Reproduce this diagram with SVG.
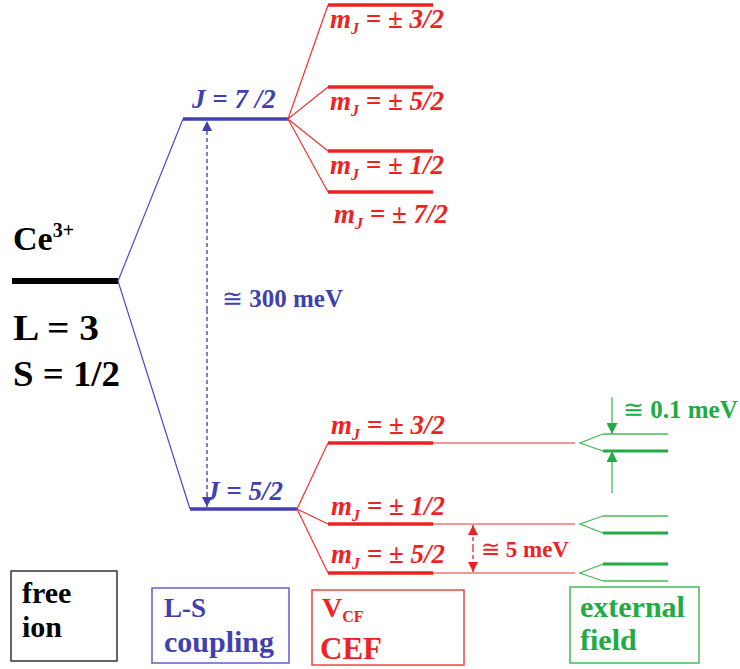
<svg xmlns="http://www.w3.org/2000/svg" width="740" height="669" viewBox="0 0 740 669">
<style>
text{font-family:"Liberation Serif","Times New Roman",serif;font-weight:bold}
.b{fill:#4040b0}.r{fill:#ee2222}.g{fill:#22aa44}.k{fill:#000}
.mj{font-style:italic;font-size:27px;fill:#ee2222}
.sub{font-size:16px}
.thinb{stroke:#4a4ad0;stroke-width:1.2;fill:none}
.thinr{stroke:#ee3333;stroke-width:1.2;fill:none}
.thickr{stroke:#ee2222;stroke-width:3.5}
.thing{stroke:#44bb55;stroke-width:1.3;fill:none}
.thickg{stroke:#22aa44;stroke-width:3}
</style>
<defs>
<marker id="ab" viewBox="0 0 10 10" refX="10" refY="5" markerWidth="10" markerHeight="10" markerUnits="userSpaceOnUse" orient="auto"><path d="M0,0L10,5L0,10z" fill="#4040b0"/></marker>
<marker id="ar" viewBox="0 0 10 10" refX="10" refY="5" markerWidth="10" markerHeight="10" markerUnits="userSpaceOnUse" orient="auto"><path d="M0,0L10,5L0,10z" fill="#ee2222"/></marker>
<marker id="ag" viewBox="0 0 10 10" refX="10" refY="5" markerWidth="11" markerHeight="11" markerUnits="userSpaceOnUse" orient="auto"><path d="M0,0L10,5L0,10z" fill="#22aa44"/></marker>
</defs>

<g id="free-ion">
<line x1="12" y1="281" x2="118" y2="281" stroke="#000" stroke-width="6"/>
<text x="13" y="250" font-size="34" class="k">Ce<tspan font-size="20" dy="-13">3+</tspan></text>
<text x="13" y="340" font-size="36" class="k" textLength="86" lengthAdjust="spacingAndGlyphs">L = 3</text>
<text x="13" y="386" font-size="36" class="k" textLength="107" lengthAdjust="spacingAndGlyphs">S = 1/2</text>
</g>

<g id="J72">
<line x1="183" y1="119" x2="288" y2="119" stroke="#4040b0" stroke-width="3.5"/>
<text x="192" y="108" font-size="27" font-style="italic" class="b">J = 7 /2</text>
</g>
<g id="J52">
<line x1="190" y1="509" x2="297" y2="509" stroke="#4040b0" stroke-width="3.5"/>
<text x="206" y="500" font-size="27" font-style="italic" class="b">J = 5/2</text>
</g>

<g id="cef-upper">
<line x1="328" y1="5" x2="433" y2="5" class="thickr"/>
<line x1="328" y1="87" x2="433" y2="87" class="thickr"/>
<line x1="328" y1="151" x2="433" y2="151" class="thickr"/>
<line x1="328" y1="192" x2="433" y2="192" class="thickr"/>
<text x="330" y="28" class="mj">m<tspan class="sub" dy="6">J</tspan><tspan dy="-6"> = ± 3/2</tspan></text>
<text x="330" y="110" class="mj">m<tspan class="sub" dy="6">J</tspan><tspan dy="-6"> = ± 5/2</tspan></text>
<text x="330" y="174" class="mj">m<tspan class="sub" dy="6">J</tspan><tspan dy="-6"> = ± 1/2</tspan></text>
<text x="334" y="223" class="mj">m<tspan class="sub" dy="6">J</tspan><tspan dy="-6"> = ± 7/2</tspan></text>
</g>

<g id="cef-lower">
<line x1="328" y1="443" x2="433" y2="443" class="thickr"/>
<line x1="328" y1="524" x2="433" y2="524" class="thickr"/>
<line x1="328" y1="573" x2="433" y2="573" class="thickr"/>
<text x="331" y="434" class="mj">m<tspan class="sub" dy="6">J</tspan><tspan dy="-6"> = ± 3/2</tspan></text>
<text x="331" y="515" class="mj">m<tspan class="sub" dy="6">J</tspan><tspan dy="-6"> = ± 1/2</tspan></text>
<text x="331" y="563" class="mj">m<tspan class="sub" dy="6">J</tspan><tspan dy="-6"> = ± 5/2</tspan></text>
</g>

<g id="external-levels">
<line x1="603" y1="434" x2="668" y2="434" class="thing"/>
<line x1="603" y1="451" x2="668" y2="451" class="thickg"/>
<line x1="603" y1="516" x2="668" y2="516" class="thing"/>
<line x1="603" y1="533" x2="668" y2="533" class="thickg"/>
<line x1="603" y1="564" x2="668" y2="564" class="thickg"/>
<line x1="603" y1="581" x2="668" y2="581" class="thing"/>
<text x="623" y="418" font-size="25" class="g"><tspan font-weight="normal">≅</tspan> 0.1 meV</text>
</g>

<g id="connectors">
<polyline points="183,119 118,281 190,509" class="thinb"/>
<polyline points="328,5 288,119 328,87" class="thinr"/>
<polyline points="328,151 288,119 328,192" class="thinr"/>
<polyline points="328,443 297,509 328,524" class="thinr"/>
<line x1="297" y1="509" x2="328" y2="573" class="thinr"/>
<line x1="433" y1="443" x2="575" y2="443" class="thinr"/>
<line x1="433" y1="524" x2="575" y2="524" class="thinr"/>
<line x1="433" y1="573" x2="575" y2="573" class="thinr"/>
<polyline points="603,434 580,443 603,451" class="thing"/>
<polyline points="603,516 580,524 603,533" class="thing"/>
<polyline points="603,564 580,573 603,581" class="thing"/>
<line x1="207" y1="310" x2="207" y2="121" stroke="#4040b0" stroke-width="1.3" stroke-dasharray="4,3" marker-end="url(#ab)"/>
<line x1="207" y1="310" x2="207" y2="507" stroke="#4040b0" stroke-width="1.3" stroke-dasharray="4,3" marker-end="url(#ab)"/>
<line x1="473" y1="548" x2="473" y2="525" stroke="#ee2222" stroke-width="1.3" stroke-dasharray="4,3" marker-end="url(#ar)"/>
<line x1="473" y1="548" x2="473" y2="572" stroke="#ee2222" stroke-width="1.3" stroke-dasharray="4,3" marker-end="url(#ar)"/>
<line x1="612" y1="397" x2="612" y2="434" stroke="#44bb55" stroke-width="1.3" marker-end="url(#ag)"/>
<line x1="612" y1="493" x2="612" y2="451" stroke="#44bb55" stroke-width="1.3" marker-end="url(#ag)"/>
</g>

<g id="label-300meV">
<text x="222" y="307" font-size="25" class="b"><tspan font-weight="normal">≅</tspan> 300 meV</text>
</g>
<g id="label-5meV">
<text x="481" y="557" font-size="23" class="r"><tspan font-weight="normal">≅</tspan> 5 meV</text>
</g>

<g id="box-free-ion">
<rect x="11" y="571" width="106" height="90" fill="none" stroke="#333" stroke-width="1.5"/>
<text x="22" y="603" font-size="30" class="k">free</text>
<text x="22" y="637" font-size="30" class="k">ion</text>
</g>
<g id="box-LS">
<rect x="152" y="588" width="137" height="75" fill="none" stroke="#6060c8" stroke-width="1.5"/>
<text x="164" y="617" font-size="27" class="b">L-S</text>
<text x="164" y="652" font-size="30" class="b">coupling</text>
</g>
<g id="box-CEF">
<rect x="312" y="590" width="152" height="75" fill="none" stroke="#ee4444" stroke-width="1.5"/>
<text x="322" y="617" font-size="28" class="r" font-weight="normal">V<tspan font-size="16" font-weight="bold" dy="5">CF</tspan></text>
<text x="320" y="659" font-size="31" class="r">CEF</text>
</g>
<g id="box-external">
<rect x="570" y="587" width="129" height="76" fill="none" stroke="#44bb55" stroke-width="1.5"/>
<text x="580" y="617" font-size="30" class="g">external</text>
<text x="580" y="650" font-size="30" class="g">field</text>
</g>
</svg>
